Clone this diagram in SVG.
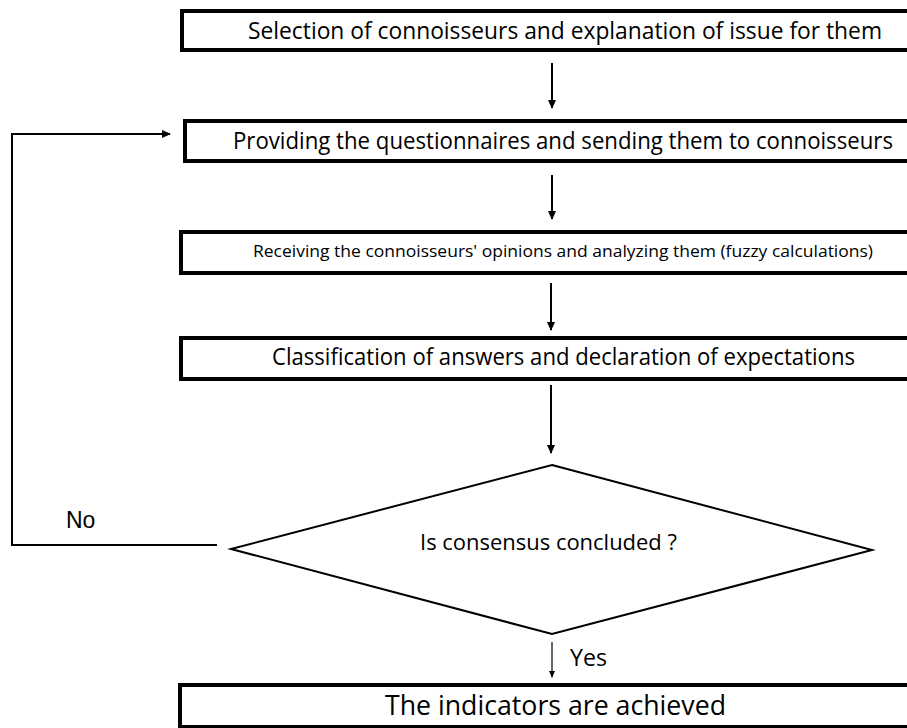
<svg xmlns="http://www.w3.org/2000/svg" width="907" height="728" viewBox="0 0 907 728">
<style>
.box{fill:#fff;stroke:#000;stroke-width:4}
.dia{fill:#fff;stroke:#000;stroke-width:2}
.t{font-family:"Open Sans","Noto Sans","Liberation Sans",sans-serif;fill:#000}
.lbl{font-family:"Liberation Sans",Arial,sans-serif;fill:#000}
.c{fill:none;stroke:#000;stroke-width:2}
.ct{fill:none;stroke:#000;stroke-width:1.2}
</style>
<defs>
<marker id="ah" markerWidth="10" markerHeight="10" refX="8" refY="5" orient="auto" markerUnits="userSpaceOnUse">
<path d="M0,1 L9,5 L0,9 Z" fill="#000"/>
</marker>
<marker id="ahs" markerWidth="8" markerHeight="8" refX="6" refY="4" orient="auto" markerUnits="userSpaceOnUse">
<path d="M0,1 L7,4 L0,7 Z" fill="#000"/>
</marker>
</defs>
<g id="connectors">
<line class="c" x1="552" y1="63" x2="552" y2="108" marker-end="url(#ah)"/>
<line class="c" x1="552" y1="175" x2="552" y2="219" marker-end="url(#ah)"/>
<line class="c" x1="551" y1="283" x2="551" y2="330" marker-end="url(#ah)"/>
<line class="c" x1="551" y1="385" x2="551" y2="453" marker-end="url(#ah)"/>
<line class="ct" x1="552" y1="642" x2="552" y2="677" marker-end="url(#ahs)"/>
<polyline class="c" points="217,545 12,545 12,134 170,134" marker-end="url(#ah)"/>
<text class="lbl" x="66" y="528" font-size="23">No</text>
<text class="t" x="570" y="666" font-size="24" textLength="37" lengthAdjust="spacingAndGlyphs">Yes</text>
</g>
<g id="n1">
<rect class="box" x="182" y="11" width="740" height="39"/>
<text class="t" x="248" y="39" font-size="23" textLength="634" lengthAdjust="spacingAndGlyphs">Selection of connoisseurs and explanation of issue for them</text>
</g>
<g id="n2">
<rect class="box" x="185" y="121" width="740" height="40"/>
<text class="t" x="233" y="149" font-size="24" textLength="660" lengthAdjust="spacingAndGlyphs">Providing the questionnaires and sending them to connoisseurs</text>
</g>
<g id="n3">
<rect class="box" x="181" y="232" width="740" height="41"/>
<text class="t" x="253" y="257" font-size="17" textLength="620" lengthAdjust="spacingAndGlyphs">Receiving the connoisseurs' opinions and analyzing them (fuzzy calculations)</text>
</g>
<g id="n4">
<rect class="box" x="181" y="338" width="740" height="41"/>
<text class="t" x="272" y="365" font-size="23" textLength="583" lengthAdjust="spacingAndGlyphs">Classification of answers and declaration of expectations</text>
</g>
<g id="n5">
<polygon class="dia" points="552,465 872,550 552,634 231,549"/>
<text class="t" x="420" y="550" font-size="21" textLength="257" lengthAdjust="spacingAndGlyphs">Is consensus concluded ?</text>
</g>
<g id="n6">
<rect class="box" x="180" y="685" width="740" height="42"/>
<text class="t" x="385" y="715" font-size="28" textLength="341" lengthAdjust="spacingAndGlyphs">The indicators are achieved</text>
</g>
</svg>
